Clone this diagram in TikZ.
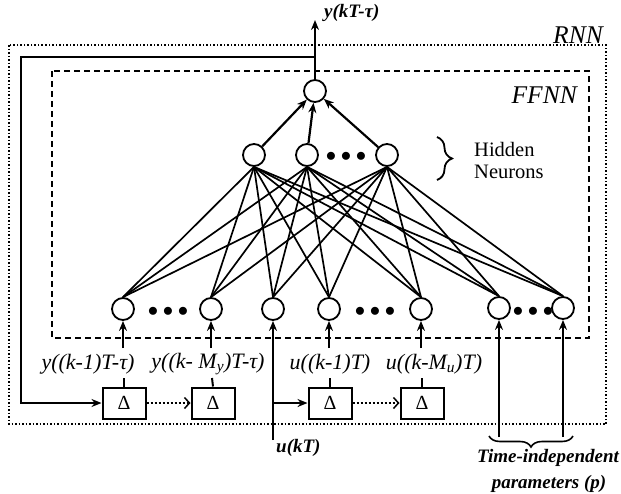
\documentclass[tikz,border=0pt]{standalone}
\usepackage{fontspec}
\setmainfont{Liberation Serif}
\usetikzlibrary{arrows.meta,decorations.pathreplacing}
\begin{document}
\begin{tikzpicture}[x=1pt,y=-1pt,
  neuron/.style={circle,draw,line width=1.8pt,minimum size=22pt,inner sep=0pt},
  delaybox/.style={draw,line width=2pt,minimum width=43pt,minimum height=31pt,inner sep=0pt,font=\fontsize{20}{24}\selectfont},
  conn/.style={line width=1.7pt},
  arr/.style={line width=2.2pt,-{Stealth[length=10pt,width=8pt]}},
  darr/.style={line width=2pt,dotted,-{Straight Barb[length=5pt,width=11pt,line width=1.5pt]}},
  lbl/.style={font=\fontsize{22}{26}\selectfont\itshape,inner sep=0pt},
  blbl/.style={font=\fontsize{19}{23}\selectfont\bfseries\itshape,inner sep=0pt},
  plain/.style={font=\fontsize{20.5}{24}\selectfont,inner sep=0pt},
  boxlbl/.style={font=\fontsize{25.5}{30}\selectfont\itshape,inner sep=0pt},
  dotsn/.style={font=\fontsize{21}{24}\selectfont,inner sep=0pt},
  brc/.style={line width=1.6pt,decorate,decoration={brace,amplitude=11pt}},
  hbrc/.style={line width=1.8pt,decorate,decoration={brace,amplitude=15pt}}
]
\useasboundingbox (0,0) rectangle (621,493);

% frames
\draw[line width=1.5pt,dotted] (9,45) rectangle (606,424);
\draw[line width=1.3pt,dash pattern=on 6pt off 4pt] (52,71) rectangle (589,338);
\node[boxlbl,anchor=base east] (rnnlbl) at (603,43) {RNN};
\node[boxlbl,anchor=base east] (ffnnlbl) at (577,103) {FFNN};

% neurons
\node[neuron] (out) at (315,91) {};
\node[neuron] (h1) at (254,155) {};
\node[neuron] (h2) at (307,155) {};
\node[neuron] (h3) at (387,155) {};
\node[dotsn] (hd) at (346,157) {$\bullet\bullet\bullet$};

\node[neuron] (i1) at (123,309) {};
\node[neuron] (i2) at (211,309) {};
\node[neuron] (i3) at (273,309) {};
\node[neuron] (i4) at (329,309) {};
\node[neuron] (i5) at (421,309) {};
\node[neuron] (i6) at (499,308) {};
\node[neuron] (i7) at (563,308) {};
\node[dotsn] (id1) at (168,312) {$\bullet\bullet\bullet$};
\node[dotsn] (id2) at (375,312) {$\bullet\bullet\bullet$};
\node[dotsn] (id3) at (533,312) {$\bullet\bullet\bullet$};

% hidden -> input connections
\foreach \h in {h1,h2,h3}{
  \foreach \i in {i1,i2,i3,i4,i5,i6,i7}{
    \draw[conn] (\h.south) -- (\i.north);
  }
}
% hidden -> output
\foreach \h in {h1,h2,h3}{
  \draw[arr] (\h) -- (out);
}

% output
\coordinate (top) at (315,20);
\draw[arr] (out.north) -- (top);
\node[blbl,anchor=west] (ylbl) at (324,13) {y(kT-τ)};

% brace for hidden neurons
\draw[hbrc] (437,137) -- (437,180);
\node[plain,anchor=base west] (hid1) at (474,156) {Hidden};
\node[plain,anchor=base west] (hid2) at (474,178) {Neurons};

% delay boxes
\node[delaybox] (b1) at (124,403) {Δ};
\node[delaybox] (b2) at (213,403) {Δ};
\node[delaybox] (b3) at (330,403) {Δ};
\node[delaybox] (b4) at (422,403) {Δ};

\node[lbl] (l1) at (88,364) {y((k-1)T-τ)};
\node[lbl] (l2) at (208,364) {y((k- M\textsubscript{y})T-τ)};
\node[lbl] (l3) at (330,364) {u((k-1)T)};
\node[lbl] (l4) at (434,364) {u((k-M\textsubscript{u})T)};

\coordinate (c1) at (124,378);
\coordinate (c2) at (212,378);
\coordinate (c3) at (330,378);
\coordinate (c4) at (422,378);
\coordinate (a1) at (123,348);
\coordinate (a2) at (211,348);
\coordinate (a3) at (329,348);
\coordinate (a4) at (421,348);

\draw[line width=2pt] (b1.north) -- (c1);
\draw[line width=2pt] (b2.north) -- (c2);
\draw[line width=2pt] (b3.north) -- (c3);
\draw[line width=2pt] (b4.north) -- (c4);
\draw[arr] (a1) -- (i1.south);
\draw[arr] (a2) -- (i2.south);
\draw[arr] (a3) -- (i4.south);
\draw[arr] (a4) -- (i5.south);

\draw[darr] (b1.east) -- (b2.west);
\draw[darr] (b3.east) -- (b4.west);

% feedback
\coordinate (fb) at (315,57);
\coordinate (fbl) at (21,57);
\coordinate (fbb) at (21,403);
\draw[line width=2.2pt,-{Stealth[length=10pt,width=8pt]}] (fb) -- (fbl) -- (fbb) -- (b1.west);

% u(kT)
\coordinate (ukt) at (273,440);
\coordinate (ub) at (273,403);
\draw[arr] (ukt) -- (i3.south);
\draw[arr] (ub) -- (b3.west);
\node[blbl,anchor=base west] (ulbl) at (276,452) {u(kT)};

% time-independent parameters
\coordinate (p1) at (499,437);
\coordinate (p2) at (563,437);
\draw[arr] (p1) -- (i6.south);
\draw[arr] (p2) -- (i7.south);
\draw[brc] (573,436) -- (489,436);
\node[blbl,anchor=base] (t1) at (548,462) {Time-independent};
\node[blbl,anchor=base] (t2) at (549,488) {parameters (p)};
\end{tikzpicture}
\end{document}
